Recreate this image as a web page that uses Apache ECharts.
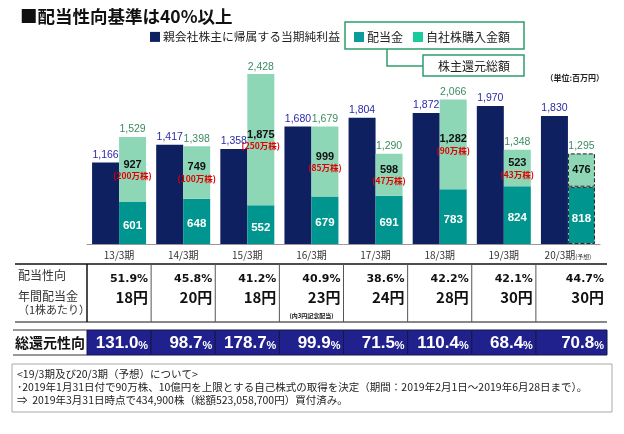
<!DOCTYPE html>
<html>
<head>
<meta charset="utf-8">
<script src="https://cdn.jsdelivr.net/npm/echarts@6/dist/echarts.min.js"></script>
<style>
  html, body { margin: 0; padding: 0; background: #fff; }
  #chart { width: 624px; height: 434px; }
</style>
</head>
<body>
<div id="chart"></div>
<script>
// data
var categories = ['13/3期', '14/3期', '15/3期', '16/3期', '17/3期', '18/3期', '19/3期', '20/3期'];
var netIncome = [1166, 1417, 1358, 1680, 1804, 1872, 1970, 1830];
var dividends = [601, 648, 552, 679, 691, 783, 824, 818];
var buybacks = [927, 749, 1875, 999, 598, 1282, 523, 476];
var returnTotals = [1529, 1398, 2428, 1679, 1290, 2066, 1348, 1295];
var buybackShares = ['200万株', '100万株', '250万株', '85万株', '47万株', '90万株', '43万株', ''];
var payoutRatios = [51.9, 45.8, 41.2, 40.9, 38.6, 42.2, 42.1, 44.7];
var annualDividends = [18, 20, 18, 23, 24, 28, 30, 30];
var dividendNotes = ['', '', '', '(内3円記念配当)', '', '', '', ''];
var totalReturnRatios = [131.0, 98.7, 178.7, 99.9, 71.5, 110.4, 68.4, 70.8];
var forecastIndex = 7;

var NAVY = '#0e2060';
var TEAL = '#00968f';
var LIGHT = '#8dd7b7';
var JP = '"Noto Sans CJK JP", sans-serif';
var NUM = '"Liberation Sans", Arial, sans-serif';
var tableExtra = 7; // last table column is a bit wider

var chart = echarts.init(document.getElementById('chart'));

function fmt(v) {
    return v.toLocaleString('en-US');
}

function forecastStyle(i) {
    return i === forecastIndex ? { borderType: 'dashed', borderColor: '#222', borderWidth: 1 } : {};
}

// payout ratio / annual dividend rows
function tableRowRender(params, api) {
    var i = api.value(0);
    var cs = params.coordSys;
    var w = api.size([1, 0])[0];
    var cx = api.coord([i, 0])[0];
    var last = i === categories.length - 1;
    var right = cx + w / 2 + (last ? tableExtra : 0);
    var kids = [];
    if (!last) {
        kids.push({
            type: 'line',
            shape: { x1: right, y1: cs.y, x2: right, y2: cs.y + cs.height },
            style: { stroke: '#555', lineWidth: 1 }
        });
    }
    kids.push({
        type: 'text',
        style: {
            text: payoutRatios[i].toFixed(1) + '%', x: right - 3, y: cs.y + 15,
            align: 'right', verticalAlign: 'middle',
            fontFamily: '"DejaVu Sans", sans-serif', fontWeight: 'bold', fontSize: 11, fill: '#111'
        }
    });
    kids.push({
        type: 'text',
        style: {
            text: annualDividends[i] + '円', x: right - 3, y: cs.y + 33,
            align: 'right', verticalAlign: 'middle',
            fontFamily: JP, fontWeight: 'bold', fontSize: 15, fill: '#111'
        }
    });
    if (dividendNotes[i]) {
        kids.push({
            type: 'text',
            style: {
                text: dividendNotes[i], x: cx, y: cs.y + 52,
                align: 'center', verticalAlign: 'middle',
                fontFamily: JP, fontWeight: 'bold', fontSize: 6, fill: '#111'
            }
        });
    }
    return { type: 'group', children: kids };
}

// total return ratio row
function totalRowRender(params, api) {
    var i = api.value(0);
    var cs = params.coordSys;
    var w = api.size([1, 0])[0];
    var cx = api.coord([i, 0])[0];
    var last = i === categories.length - 1;
    var right = cx + w / 2 + (last ? tableExtra : 0);
    return {
        type: 'group',
        children: [{
            type: 'rect',
            shape: { x: cx - w / 2, y: cs.y, width: right - (cx - w / 2), height: cs.height },
            style: { fill: '#21218e', stroke: '#15154a', lineWidth: 1 }
        }, {
            type: 'text',
            style: {
                text: '{a|' + totalReturnRatios[i].toFixed(1) + '}{b|%}',
                x: right - 3, y: cs.y + cs.height / 2 + 1,
                align: 'right', verticalAlign: 'middle',
                rich: {
                    a: { fontFamily: NUM, fontWeight: 'bold', fontSize: 17, fill: '#fff' },
                    b: { fontFamily: NUM, fontWeight: 'bold', fontSize: 11, fill: '#fff', padding: [4, 0, 0, 0] }
                }
            }
        }]
    };
}

chart.setOption({
    animation: false,
    textStyle: { fontFamily: JP },
    grid: [
        { left: 87, right: 24, top: 69, height: 175 },
        { left: 87, right: 24, top: 264, height: 58 },
        { left: 87, right: 24, top: 330, height: 25 }
    ],
    legend: [{
        data: ['親会社株主に帰属する当期純利益'],
        left: 145, top: 26,
        itemWidth: 10, itemHeight: 10, itemGap: 10,
        icon: 'rect',
        textStyle: { fontSize: 11.8, color: '#222', padding: [0, 0, 0, -2] }
    }, {
        data: [
            { name: '配当金', itemStyle: { color: '#0a9b9a' } },
            { name: '自社株購入金額', itemStyle: { color: '#19cc9c' } }
        ],
        left: 349, top: 26,
        itemWidth: 10, itemHeight: 10, itemGap: 10,
        icon: 'rect',
        textStyle: { fontSize: 12, color: '#222', padding: [0, 0, 0, -2] }
    }],
    xAxis: [{
        type: 'category',
        gridIndex: 0,
        data: categories,
        axisLine: { lineStyle: { color: '#999', width: 1 } },
        axisTick: { inside: true, length: 19, lineStyle: { color: '#999', width: 1.5 } },
        axisLabel: {
            interval: 0,
            margin: 6,
            fontSize: 10,
            color: '#333',
            formatter: function (v, i) {
                return i === forecastIndex ? '{a|' + v + '}{b|(予想)}' : '{a|' + v + '}';
            },
            rich: {
                a: { fontSize: 10, color: '#333' },
                b: { fontSize: 6, color: '#333', padding: [4, 0, 0, 0] }
            }
        }
    }, {
        type: 'category', gridIndex: 1, data: categories, show: false
    }, {
        type: 'category', gridIndex: 2, data: categories, show: false
    }],
    yAxis: [{
        type: 'value', gridIndex: 0, min: 0, max: 2500, show: false, splitLine: { show: false }
    }, {
        type: 'value', gridIndex: 1, min: 0, max: 1, show: false, splitLine: { show: false }
    }, {
        type: 'value', gridIndex: 2, min: 0, max: 1, show: false, splitLine: { show: false }
    }],
    series: [{
        name: '親会社株主に帰属する当期純利益',
        type: 'bar',
        barWidth: 27,
        barGap: '0%',
        data: netIncome,
        itemStyle: { color: NAVY },
        label: {
            show: true, position: 'top', distance: 2,
            fontFamily: NUM, fontSize: 10.5, color: '#2a2aa8',
            formatter: function (p) { return fmt(p.value); }
        }
    }, {
        name: '配当金',
        type: 'bar',
        stack: 'ret',
        barWidth: 27,
        data: dividends.map(function (v, i) {
            return { value: v, itemStyle: forecastStyle(i) };
        }),
        itemStyle: { color: TEAL },
        label: {
            show: true, position: 'inside', offset: [0, 3],
            fontFamily: NUM, fontWeight: 'bold', fontSize: 11.5, color: '#fff'
        }
    }, {
        name: '自社株購入金額',
        type: 'bar',
        stack: 'ret',
        barWidth: 27,
        data: buybacks.map(function (v, i) {
            return { value: v, itemStyle: forecastStyle(i) };
        }),
        itemStyle: { color: LIGHT },
        label: {
            show: true, position: 'inside',
            formatter: function (p) {
                var s = '{v|' + fmt(p.value) + '}';
                if (buybackShares[p.dataIndex]) s += '\n{s|(' + buybackShares[p.dataIndex] + ')}';
                return s;
            },
            rich: {
                v: { fontFamily: NUM, fontWeight: 'bold', fontSize: 11, color: '#111', lineHeight: 13 },
                s: { fontFamily: JP, fontWeight: 'bold', fontSize: 8.5, color: '#e00000', lineHeight: 10 }
            }
        }
    }, {
        name: '株主還元総額',
        type: 'bar',
        stack: 'ret',
        barWidth: 27,
        data: returnTotals.map(function () { return 0; }),
        itemStyle: { color: 'transparent' },
        label: {
            show: true, position: 'top', distance: 2,
            fontFamily: NUM, fontSize: 10.5, color: '#3c8c62',
            formatter: function (p) { return fmt(returnTotals[p.dataIndex]); }
        }
    }, {
        type: 'custom',
        xAxisIndex: 1, yAxisIndex: 1,
        renderItem: tableRowRender,
        data: categories.map(function (c, i) { return [i, 0]; })
    }, {
        type: 'custom',
        xAxisIndex: 2, yAxisIndex: 2,
        renderItem: totalRowRender,
        data: categories.map(function (c, i) { return [i, 0]; })
    }],
    graphic: [
        // title
        { type: 'text', left: 20, top: 8, style: { text: '■配当性向基準は40%以上', font: 'bold 17.5px "Noto Sans CJK JP"', fill: '#111' } },
        // legend frames
        { type: 'rect', shape: { x: 345, y: 22, width: 179, height: 27 }, style: { fill: 'none', stroke: '#2e9e6e', lineWidth: 1.5 } },
        { type: 'polyline', shape: { points: [[387, 49], [387, 66], [423, 66]] }, style: { fill: 'none', stroke: '#2e9e6e', lineWidth: 1.5 } },
        { type: 'rect', shape: { x: 423, y: 55, width: 101, height: 21 }, style: { fill: '#fff', stroke: '#2e9e6e', lineWidth: 1.5 } },
        { type: 'text', x: 474, y: 66, style: { text: '株主還元総額', font: '12px "Noto Sans CJK JP"', fill: '#222', align: 'center', verticalAlign: 'middle' } },
        { type: 'text', x: 604, y: 78, style: { text: '（単位:百万円）', font: 'bold 8px "Noto Sans CJK JP"', fill: '#222', align: 'right', verticalAlign: 'middle' } },
        // table frame
        { type: 'line', shape: { x1: 15, y1: 264, x2: 607, y2: 264 }, style: { stroke: '#111', lineWidth: 1.5 } },
        { type: 'line', shape: { x1: 15, y1: 322, x2: 607, y2: 322 }, style: { stroke: '#111', lineWidth: 1 } },
        { type: 'line', shape: { x1: 87, y1: 264, x2: 87, y2: 322 }, style: { stroke: '#111', lineWidth: 1.5 } },
        { type: 'text', x: 18, y: 275, style: { text: '配当性向', font: '12px "Noto Sans CJK JP"', fill: '#333', verticalAlign: 'middle' } },
        { type: 'text', x: 18, y: 296, style: { text: '年間配当金', font: '12px "Noto Sans CJK JP"', fill: '#333', verticalAlign: 'middle' } },
        { type: 'text', x: 18, y: 310, style: { text: '（1株あたり）', font: '11px "Noto Sans CJK JP"', fill: '#333', verticalAlign: 'middle' } },
        // total return label cell
        { type: 'line', shape: { x1: 13, y1: 330, x2: 87, y2: 330 }, style: { stroke: '#333', lineWidth: 1 } },
        { type: 'line', shape: { x1: 13, y1: 355, x2: 87, y2: 355 }, style: { stroke: '#333', lineWidth: 1 } },
        { type: 'text', x: 50, y: 343, style: { text: '総還元性向', font: 'bold 14px "Noto Sans CJK JP"', fill: '#111', align: 'center', verticalAlign: 'middle' } },
        // notes
        { type: 'rect', shape: { x: 12, y: 364, width: 600, height: 48 }, style: { fill: '#fff', stroke: '#aaa', lineWidth: 1 } },
        { type: 'text', x: 17, y: 374, style: { text: '<19/3期及び20/3期（予想）について>', font: '10.5px "Noto Sans CJK JP"', fill: '#222', verticalAlign: 'middle' } },
        { type: 'text', x: 17, y: 387, style: { text: '･2019年1月31日付で90万株、10億円を上限とする自己株式の取得を決定（期間：2019年2月1日～2019年6月28日まで）。', font: '10.5px "Noto Sans CJK JP"', fill: '#222', verticalAlign: 'middle' } },
        { type: 'text', x: 17, y: 400, style: { text: '⇒  2019年3月31日時点で434,900株（総額523,058,700円）買付済み。', font: '10.5px "Noto Sans CJK JP"', fill: '#222', verticalAlign: 'middle' } }
    ]
});
</script>
</body>
</html>
